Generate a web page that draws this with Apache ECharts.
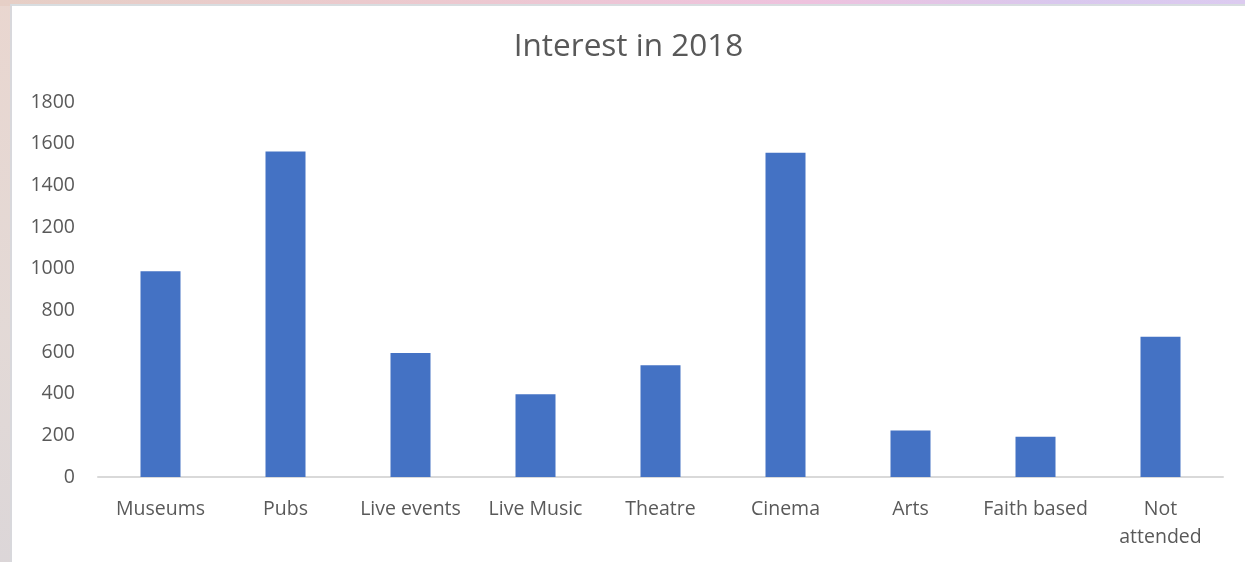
<!DOCTYPE html>
<html>
<head>
<meta charset="utf-8">
<script src="https://cdn.jsdelivr.net/npm/echarts@6/dist/echarts.min.js"></script>
<style>
  html, body { margin: 0; padding: 0; width: 1245px; height: 562px; overflow: hidden; }
  body {
    background:
      linear-gradient(180deg, rgba(232,212,205,0.95) 0%, rgba(225,215,212,0.95) 60%, rgba(218,212,214,0.95) 100%);
    position: relative;
  }
  #topband {
    position: absolute; left: 0; top: 0; right: 0; height: 6px;
    background: linear-gradient(90deg, #e6cfc6 0%, #ecc9cf 35%, #eec2de 65%, #d9c8ee 85%, #dccbf0 100%);
  }
  #frame {
    position: absolute; left: 10px; top: 4px; right: 0; bottom: 0;
    background: #ffffff;
    border-left: 2px solid #d8d8dc;
    border-top: 2px solid #d8dde0;
  }
  #chart { position: absolute; left: 0; top: 0; width: 1233px; height: 556px; }
</style>
</head>
<body>
<div id="topband"></div>
<div id="frame"><div id="chart"></div></div>
<script>
// Attendance interest by activity, 2018
const categories = ['Museums', 'Pubs', 'Live events', 'Live Music', 'Theatre', 'Cinema', 'Arts', 'Faith based', 'Not\nattended'];
const interest = [988, 1562, 595, 397, 536, 1557, 223, 193, 673];
const yTicks = { min: 0, max: 1800, step: 200 };

const chart = echarts.init(document.getElementById('chart'));
chart.setOption({
  animation: false,
  backgroundColor: '#ffffff',
  title: {
    text: 'Interest in 2018',
    left: 'center',
    top: 20,
    textStyle: { fontFamily: 'Open Sans', fontSize: 31.5, fontWeight: 'normal', color: '#595959' }
  },
  grid: { left: 86, right: 22, top: 96, bottom: 85 },
  xAxis: {
    type: 'category',
    data: categories,
    axisLine: { lineStyle: { color: '#d9d9d9', width: 2 } },
    axisTick: { show: false },
    axisLabel: {
      interval: 0,
      margin: 18,
      fontFamily: 'Open Sans',
      fontSize: 19.5,
      lineHeight: 28,
      color: '#595959'
    }
  },
  yAxis: {
    type: 'value',
    min: yTicks.min,
    max: yTicks.max,
    interval: yTicks.step,
    splitLine: { show: false },
    axisLine: { show: false },
    axisTick: { show: false },
    axisLabel: {
      margin: 23,
      fontFamily: 'Open Sans',
      fontSize: 19.5,
      color: '#595959',
      formatter: (v) => String(v)
    }
  },
  series: [{
    type: 'bar',
    data: interest,
    barWidth: '32%',
    itemStyle: { color: '#4472c4' }
  }]
});
</script>
</body>
</html>
